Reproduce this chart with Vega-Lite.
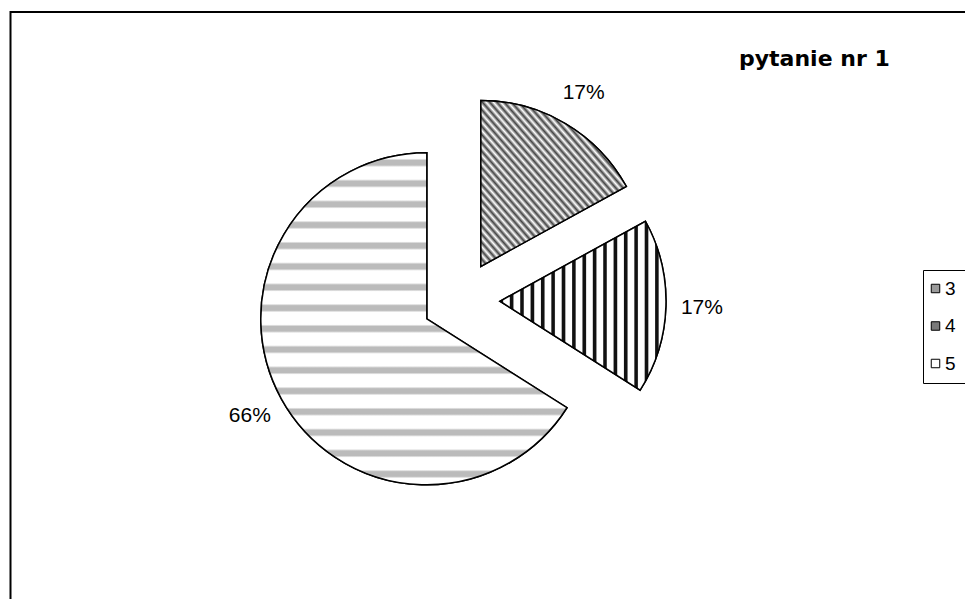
{
  "$schema": "https://vega.github.io/schema/vega-lite/v6.json",
  "autosize": {"type": "none"},
  "padding": {"left": 10.5, "top": 12, "right": -10, "bottom": -10},
  "width": 964.5,
  "height": 597,
  "background": "white",
  "config": {
    "view": {"stroke": "black", "strokeWidth": 2},
    "font": "Liberation Sans"
  },
  "title": {
    "text": "pytanie nr 1",
    "orient": "top",
    "anchor": "start",
    "frame": "group",
    "offset": 0,
    "dx": 728.5,
    "dy": 76,
    "baseline": "alphabetic",
    "font": "DejaVu Sans",
    "fontSize": 22,
    "fontWeight": "bold",
    "color": "black"
  },
  "data": {
    "values": [
      {"category": "3", "value": 17},
      {"category": "4", "value": 17},
      {"category": "5", "value": 66}
    ]
  },
  "transform": [
    {"joinaggregate": [{"op": "sum", "field": "value", "as": "total"}]},
    {"window": [{"op": "sum", "field": "value", "as": "cum"}], "sort": [{"field": "category"}], "frame": [null, 0]},
    {"calculate": "2*PI*(datum.cum - datum.value/2)/datum.total", "as": "mid"},
    {"calculate": "0.235*sin(datum.mid)", "as": "ex"},
    {"calculate": "0.235*cos(datum.mid)", "as": "ey"},
    {"calculate": "datum.value/datum.total", "as": "frac"}
  ],
  "encoding": {
    "theta": {"field": "value", "type": "quantitative", "stack": true},
    "order": {"field": "category", "type": "ordinal"},
    "x": {"field": "ex", "type": "quantitative", "scale": {"domain": [-1, 1], "range": [284.5, 616.5], "nice": false, "zero": false}, "axis": null},
    "y": {"field": "ey", "type": "quantitative", "scale": {"domain": [-1, 1], "range": [454, 122], "nice": false, "zero": false}, "axis": null}
  },
  "layer": [
    {
      "mark": {"type": "arc", "radius": 166, "stroke": "black", "strokeWidth": 1.5},
      "encoding": {
        "color": {
          "field": "category",
          "type": "nominal",
          "scale": {"domain": ["3", "4", "5"], "range": ["#9a9a9a", "#7a7a7a", "#ffffff"]},
          "legend": {
            "orient": "none",
            "legendX": 912.5,
            "legendY": 258,
            "title": null,
            "symbolType": "square",
            "symbolSize": 72,
            "symbolOpacity": 1,
            "symbolOffset": -6,
            "symbolStrokeColor": "black",
            "symbolStrokeWidth": 1,
            "labelFont": "Liberation Sans",
            "labelFontSize": 19,
            "labelColor": "black",
            "labelOffset": 0,
            "rowPadding": 17.5,
            "padding": 9,
            "strokeColor": "black",
            "labelExpr": "datum.label + '          '"
          }
        }
      }
    },
    {
      "mark": {"type": "arc", "radius": 166, "stroke": "black", "strokeWidth": 1.5},
      "encoding": {
        "fill": {
          "condition": [
            {"test": "datum.category === '3'", "value": {"gradient": "linear", "x1": 0, "y1": 1, "x2": 1, "y2": 0, "stops": [
                {"offset": 0, "color": "#444"}, {"offset": 0.0125, "color": "#fff"}, {"offset": 0.025, "color": "#444"}, {"offset": 0.0375, "color": "#fff"},
                {"offset": 0.05, "color": "#444"}, {"offset": 0.0625, "color": "#fff"}, {"offset": 0.075, "color": "#444"}, {"offset": 0.0875, "color": "#fff"},
                {"offset": 0.1, "color": "#444"}, {"offset": 0.1125, "color": "#fff"}, {"offset": 0.125, "color": "#444"}, {"offset": 0.1375, "color": "#fff"},
                {"offset": 0.15, "color": "#444"}, {"offset": 0.1625, "color": "#fff"}, {"offset": 0.175, "color": "#444"}, {"offset": 0.1875, "color": "#fff"},
                {"offset": 0.2, "color": "#444"}, {"offset": 0.2125, "color": "#fff"}, {"offset": 0.225, "color": "#444"}, {"offset": 0.2375, "color": "#fff"},
                {"offset": 0.25, "color": "#444"}, {"offset": 0.2625, "color": "#fff"}, {"offset": 0.275, "color": "#444"}, {"offset": 0.2875, "color": "#fff"},
                {"offset": 0.3, "color": "#444"}, {"offset": 0.3125, "color": "#fff"}, {"offset": 0.325, "color": "#444"}, {"offset": 0.3375, "color": "#fff"},
                {"offset": 0.35, "color": "#444"}, {"offset": 0.3625, "color": "#fff"}, {"offset": 0.375, "color": "#444"}, {"offset": 0.3875, "color": "#fff"},
                {"offset": 0.4, "color": "#444"}, {"offset": 0.4125, "color": "#fff"}, {"offset": 0.425, "color": "#444"}, {"offset": 0.4375, "color": "#fff"},
                {"offset": 0.45, "color": "#444"}, {"offset": 0.4625, "color": "#fff"}, {"offset": 0.475, "color": "#444"}, {"offset": 0.4875, "color": "#fff"},
                {"offset": 0.5, "color": "#444"}, {"offset": 0.5125, "color": "#fff"}, {"offset": 0.525, "color": "#444"}, {"offset": 0.5375, "color": "#fff"},
                {"offset": 0.55, "color": "#444"}, {"offset": 0.5625, "color": "#fff"}, {"offset": 0.575, "color": "#444"}, {"offset": 0.5875, "color": "#fff"},
                {"offset": 0.6, "color": "#444"}, {"offset": 0.6125, "color": "#fff"}, {"offset": 0.625, "color": "#444"}, {"offset": 0.6375, "color": "#fff"},
                {"offset": 0.65, "color": "#444"}, {"offset": 0.6625, "color": "#fff"}, {"offset": 0.675, "color": "#444"}, {"offset": 0.6875, "color": "#fff"},
                {"offset": 0.7, "color": "#444"}, {"offset": 0.7125, "color": "#fff"}, {"offset": 0.725, "color": "#444"}, {"offset": 0.7375, "color": "#fff"},
                {"offset": 0.75, "color": "#444"}, {"offset": 0.7625, "color": "#fff"}, {"offset": 0.775, "color": "#444"}, {"offset": 0.7875, "color": "#fff"},
                {"offset": 0.8, "color": "#444"}, {"offset": 0.8125, "color": "#fff"}, {"offset": 0.825, "color": "#444"}, {"offset": 0.8375, "color": "#fff"},
                {"offset": 0.85, "color": "#444"}, {"offset": 0.8625, "color": "#fff"}, {"offset": 0.875, "color": "#444"}, {"offset": 0.8875, "color": "#fff"},
                {"offset": 0.9, "color": "#444"}, {"offset": 0.9125, "color": "#fff"}, {"offset": 0.925, "color": "#444"}, {"offset": 0.9375, "color": "#fff"},
                {"offset": 0.95, "color": "#444"}, {"offset": 0.9625, "color": "#fff"}, {"offset": 0.975, "color": "#444"}, {"offset": 0.9875, "color": "#fff"},
                {"offset": 1, "color": "#444"}
              ]}},
            {"test": "datum.category === '4'", "value": {"gradient": "linear", "x1": 0, "y1": 0, "x2": 1, "y2": 0, "stops": [
                {"offset": 0, "color": "#111"}, {"offset": 0.015, "color": "#111"}, {"offset": 0.022, "color": "#fff"}, {"offset": 0.056, "color": "#fff"},
                {"offset": 0.0625, "color": "#111"}, {"offset": 0.0775, "color": "#111"}, {"offset": 0.0845, "color": "#fff"}, {"offset": 0.1185, "color": "#fff"},
                {"offset": 0.125, "color": "#111"}, {"offset": 0.14, "color": "#111"}, {"offset": 0.147, "color": "#fff"}, {"offset": 0.181, "color": "#fff"},
                {"offset": 0.1875, "color": "#111"}, {"offset": 0.2025, "color": "#111"}, {"offset": 0.2095, "color": "#fff"}, {"offset": 0.2435, "color": "#fff"},
                {"offset": 0.25, "color": "#111"}, {"offset": 0.265, "color": "#111"}, {"offset": 0.272, "color": "#fff"}, {"offset": 0.306, "color": "#fff"},
                {"offset": 0.3125, "color": "#111"}, {"offset": 0.3275, "color": "#111"}, {"offset": 0.3345, "color": "#fff"}, {"offset": 0.3685, "color": "#fff"},
                {"offset": 0.375, "color": "#111"}, {"offset": 0.39, "color": "#111"}, {"offset": 0.397, "color": "#fff"}, {"offset": 0.431, "color": "#fff"},
                {"offset": 0.4375, "color": "#111"}, {"offset": 0.4525, "color": "#111"}, {"offset": 0.4595, "color": "#fff"}, {"offset": 0.4935, "color": "#fff"},
                {"offset": 0.5, "color": "#111"}, {"offset": 0.515, "color": "#111"}, {"offset": 0.522, "color": "#fff"}, {"offset": 0.556, "color": "#fff"},
                {"offset": 0.5625, "color": "#111"}, {"offset": 0.5775, "color": "#111"}, {"offset": 0.5845, "color": "#fff"}, {"offset": 0.6185, "color": "#fff"},
                {"offset": 0.625, "color": "#111"}, {"offset": 0.64, "color": "#111"}, {"offset": 0.647, "color": "#fff"}, {"offset": 0.681, "color": "#fff"},
                {"offset": 0.6875, "color": "#111"}, {"offset": 0.7025, "color": "#111"}, {"offset": 0.7095, "color": "#fff"}, {"offset": 0.7435, "color": "#fff"},
                {"offset": 0.75, "color": "#111"}, {"offset": 0.765, "color": "#111"}, {"offset": 0.772, "color": "#fff"}, {"offset": 0.806, "color": "#fff"},
                {"offset": 0.8125, "color": "#111"}, {"offset": 0.8275, "color": "#111"}, {"offset": 0.8345, "color": "#fff"}, {"offset": 0.8685, "color": "#fff"},
                {"offset": 0.875, "color": "#111"}, {"offset": 0.89, "color": "#111"}, {"offset": 0.897, "color": "#fff"}, {"offset": 0.931, "color": "#fff"},
                {"offset": 0.9375, "color": "#111"}, {"offset": 0.9525, "color": "#111"}, {"offset": 0.9595, "color": "#fff"}, {"offset": 1, "color": "#fff"}
              ]}}
          ],
          "value": {"gradient": "linear", "x1": 0, "y1": 0, "x2": 0, "y2": 1, "stops": [
                {"offset": 0, "color": "#fff"}, {"offset": 0.017, "color": "#fff"}, {"offset": 0.023, "color": "#bbb"}, {"offset": 0.037, "color": "#bbb"}, {"offset": 0.043, "color": "#fff"},
                {"offset": 0.0795, "color": "#fff"}, {"offset": 0.0855, "color": "#bbb"}, {"offset": 0.0995, "color": "#bbb"}, {"offset": 0.1055, "color": "#fff"},
                {"offset": 0.142, "color": "#fff"}, {"offset": 0.148, "color": "#bbb"}, {"offset": 0.162, "color": "#bbb"}, {"offset": 0.168, "color": "#fff"},
                {"offset": 0.2045, "color": "#fff"}, {"offset": 0.2105, "color": "#bbb"}, {"offset": 0.2245, "color": "#bbb"}, {"offset": 0.2305, "color": "#fff"},
                {"offset": 0.267, "color": "#fff"}, {"offset": 0.273, "color": "#bbb"}, {"offset": 0.287, "color": "#bbb"}, {"offset": 0.293, "color": "#fff"},
                {"offset": 0.3295, "color": "#fff"}, {"offset": 0.3355, "color": "#bbb"}, {"offset": 0.3495, "color": "#bbb"}, {"offset": 0.3555, "color": "#fff"},
                {"offset": 0.392, "color": "#fff"}, {"offset": 0.398, "color": "#bbb"}, {"offset": 0.412, "color": "#bbb"}, {"offset": 0.418, "color": "#fff"},
                {"offset": 0.4545, "color": "#fff"}, {"offset": 0.4605, "color": "#bbb"}, {"offset": 0.4745, "color": "#bbb"}, {"offset": 0.4805, "color": "#fff"},
                {"offset": 0.517, "color": "#fff"}, {"offset": 0.523, "color": "#bbb"}, {"offset": 0.537, "color": "#bbb"}, {"offset": 0.543, "color": "#fff"},
                {"offset": 0.5795, "color": "#fff"}, {"offset": 0.5855, "color": "#bbb"}, {"offset": 0.5995, "color": "#bbb"}, {"offset": 0.6055, "color": "#fff"},
                {"offset": 0.642, "color": "#fff"}, {"offset": 0.648, "color": "#bbb"}, {"offset": 0.662, "color": "#bbb"}, {"offset": 0.668, "color": "#fff"},
                {"offset": 0.7045, "color": "#fff"}, {"offset": 0.7105, "color": "#bbb"}, {"offset": 0.7245, "color": "#bbb"}, {"offset": 0.7305, "color": "#fff"},
                {"offset": 0.767, "color": "#fff"}, {"offset": 0.773, "color": "#bbb"}, {"offset": 0.787, "color": "#bbb"}, {"offset": 0.793, "color": "#fff"},
                {"offset": 0.8295, "color": "#fff"}, {"offset": 0.8355, "color": "#bbb"}, {"offset": 0.8495, "color": "#bbb"}, {"offset": 0.8555, "color": "#fff"},
                {"offset": 0.892, "color": "#fff"}, {"offset": 0.898, "color": "#bbb"}, {"offset": 0.912, "color": "#bbb"}, {"offset": 0.918, "color": "#fff"},
                {"offset": 0.9545, "color": "#fff"}, {"offset": 0.9605, "color": "#bbb"}, {"offset": 0.9745, "color": "#bbb"}, {"offset": 0.9805, "color": "#fff"},
                {"offset": 1, "color": "#fff"}
              ]}
        }
      }
    },
    {
      "mark": {"type": "text", "radius": 202, "fontSize": 21, "font": "Liberation Sans", "color": "black", "align": "center", "baseline": "middle"},
      "encoding": {
        "text": {"field": "frac", "type": "quantitative", "format": ".0%"}
      }
    }
  ]
}
